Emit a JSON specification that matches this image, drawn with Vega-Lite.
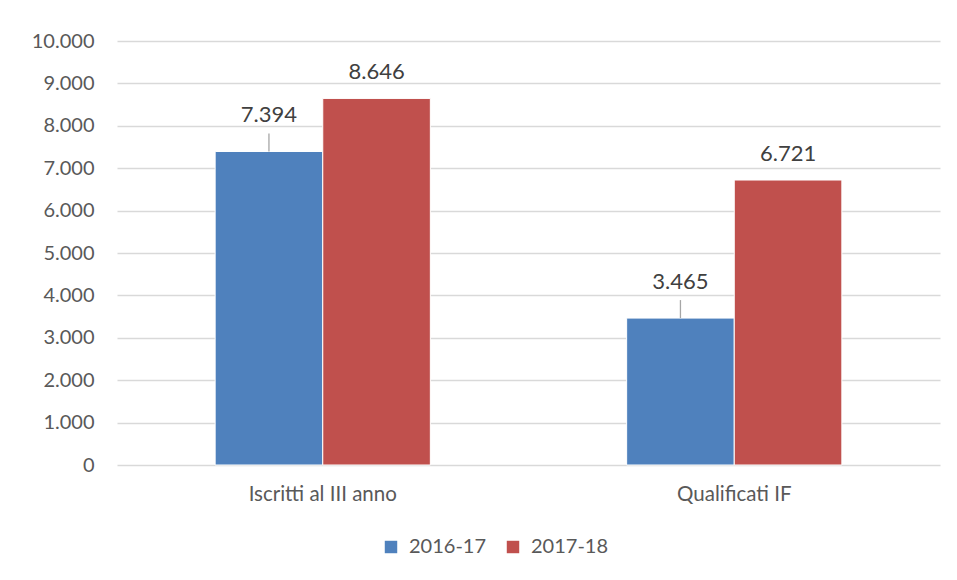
{
  "$schema": "https://vega.github.io/schema/vega-lite/v6.json",
  "autosize": "none",
  "width": 823,
  "height": 424,
  "padding": {"left": 117, "top": 41, "right": 17, "bottom": 115},
  "background": "white",
  "config": {
    "locale": {"number": {"decimal": ",", "thousands": ".", "grouping": [3], "currency": ["€", ""]}},
    "font": "Lato",
    "view": {"stroke": null},
    "axis": {"labelFont": "Lato", "labelColor": "#595959", "labelFontSize": 20}
  },
  "data": {
    "values": [
      {"categoria": "Iscritti al III anno", "anno": "2016-17", "valore": 7394},
      {"categoria": "Iscritti al III anno", "anno": "2017-18", "valore": 8646},
      {"categoria": "Qualificati IF", "anno": "2016-17", "valore": 3465},
      {"categoria": "Qualificati IF", "anno": "2017-18", "valore": 6721}
    ]
  },
  "encoding": {
    "x": {
      "field": "categoria", "type": "nominal", "title": null,
      "scale": {"paddingInner": 0.477, "paddingOuter": 0.2385},
      "axis": {"labelAngle": 0, "domain": false, "ticks": false, "labelPadding": 19, "labelFontSize": 20.5}
    },
    "xOffset": {"field": "anno", "type": "nominal"},
    "y": {
      "field": "valore", "type": "quantitative", "title": null,
      "scale": {"domain": [0, 10000], "nice": false},
      "axis": {"values": [0,1000,2000,3000,4000,5000,6000,7000,8000,9000,10000], "format": ",d", "domain": false, "ticks": false, "labelPadding": 23, "gridColor": "#d9d9d9", "gridWidth": 1.3}
    }
  },
  "layer": [
    {
      "mark": {"type": "bar", "stroke": "white", "strokeWidth": 1},
      "encoding": {
        "color": {
          "field": "anno", "type": "nominal", "title": null,
          "scale": {"domain": ["2016-17", "2017-18"], "range": ["#4F81BD", "#C0504D"]},
          "legend": {"orient": "none", "legendX": 264, "legendY": 496, "direction": "horizontal", "symbolType": "square", "symbolSize": 155, "symbolStrokeWidth": 0, "labelFontSize": 20, "labelColor": "#595959", "labelFont": "Lato", "columnPadding": 16, "labelOffset": 8}
        }
      }
    },
    {
      "transform": [{"filter": "datum.anno === '2016-17'"}],
      "mark": {"type": "rule", "color": "#a6a6a6", "strokeWidth": 1.3, "y2Offset": -18},
      "encoding": {"y2": {"field": "valore"}}
    },
    {
      "transform": [{"filter": "datum.anno === '2016-17'"}],
      "mark": {"type": "text", "dy": -36, "fontSize": 22, "color": "#404040", "baseline": "middle"},
      "encoding": {"text": {"field": "valore", "type": "quantitative", "format": ",d"}}
    },
    {
      "transform": [{"filter": "datum.anno === '2017-18'"}],
      "mark": {"type": "text", "dy": -26, "fontSize": 22, "color": "#404040", "baseline": "middle"},
      "encoding": {"text": {"field": "valore", "type": "quantitative", "format": ",d"}}
    }
  ]
}
